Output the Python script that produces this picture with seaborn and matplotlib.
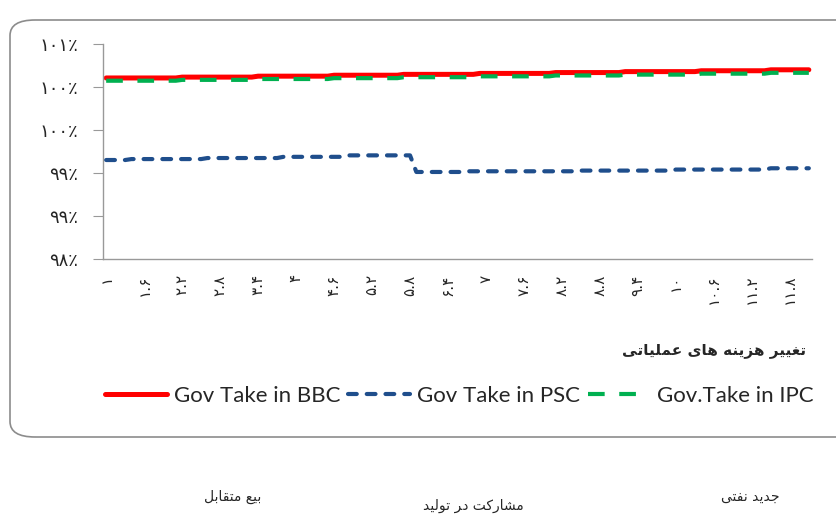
import numpy as np
import pandas as pd
import matplotlib
matplotlib.use("Agg")
import matplotlib.pyplot as plt
from matplotlib.patches import FancyBboxPatch
import seaborn as sns

# categories: change in operating costs (multiplier)
cats = np.round(np.arange(1.0, 12.15, 0.1), 1)

# values, as step levels and their run lengths
bbc_levels = [100.605, 100.615, 100.626, 100.637, 100.647, 100.658, 100.668, 100.679, 100.689, 100.700]
bbc_runs = [12, 12, 12, 11, 12, 12, 11, 12, 11, 7]
ipc_levels = [100.573, 100.583, 100.593, 100.603, 100.614, 100.624, 100.634, 100.644, 100.655, 100.665]
ipc_runs = [12, 12, 12, 11, 12, 12, 11, 12, 11, 7]
psc_levels = [99.651, 99.662, 99.674, 99.688, 99.705, 99.512, 99.520, 99.528, 99.540, 99.555]
psc_runs = [4, 12, 12, 10, 11, 8, 18, 15, 15, 7]

bbc = np.repeat(bbc_levels, bbc_runs)
ipc = np.repeat(ipc_levels, ipc_runs)
psc = np.repeat(psc_levels, psc_runs)

y_ticks = [98.5, 99.0, 99.5, 100.0, 100.5, 101.0]
y_labels = ['۹۸٪', '۹۹٪', '۹۹٪', '۱۰۰٪', '۱۰۰٪', '۱۰۱٪']

# Persian text written as presentation forms, logical order (reversed for display)
xlabel_fa = ('\uFE97\uFED0\uFEF4\uFEF4\uFEAE ' '\uFEEB\uFEB0\uFEF3\uFEE8\uFEEA '
             '\uFEEB\uFE8E\uFEEF ' '\uFECB\uFEE4\uFEE0\uFEF4\uFE8E\uFE97\uFEF0')
note_bbc = '\uFE91\uFEF4\uFECA \uFEE3\uFE98\uFED8\uFE8E\uFE91\uFEDE'
note_psc = '\uFEE3\uFEB8\uFE8E\uFEAD\uFEDB\uFE96 \uFEA9\uFEAE \uFE97\uFEEE\uFEDF\uFEF4\uFEAA'
note_ipc = '\uFE9F\uFEAA\uFEF3\uFEAA \uFEE7\uFED4\uFE98\uFEF0'


def vis(s):
    return s[::-1]


fa_digits = str.maketrans('0123456789', '۰۱۲۳۴۵۶۷۸۹')

sns.set_style('white')
plt.rcParams['font.family'] = ['DejaVu Sans']

fig = plt.figure(figsize=(8.36, 5.16), dpi=100)
W, H = 836, 516
ax = fig.add_axes([103 / W, 1 - 259 / H, (812 - 103) / W, (259 - 44) / H])

# rounded chart border
border = FancyBboxPatch((10 / W, 1 - 437 / H), 860 / W, (437 - 20) / H,
                        boxstyle='round,pad=0,rounding_size=0.03',
                        transform=fig.transFigure, fill=False,
                        edgecolor='#8c8c8c', linewidth=1.2, clip_on=False)
fig.add_artist(border)

sns.lineplot(x=cats, y=bbc, ax=ax, color='#FF0000', linewidth=3.6,
             label='Gov Take in BBC', zorder=2)
sns.lineplot(x=cats, y=psc, ax=ax, color='#1F4E8C', linewidth=3.0,
             label='Gov Take in PSC', zorder=3)
sns.lineplot(x=cats, y=ipc, ax=ax, color='#00B050', linewidth=3.0,
             label='Gov.Take in IPC', zorder=4)

lines = ax.get_lines()
lines[1].set_dashes((2.1, 2.4))
lines[1].set_dash_capstyle('round')
lines[2].set_dashes((4, 3.5))

ax.set_ylim(98.5, 101.0)
ax.set_xlim(cats[0] - 0.05, cats[-1] + 0.05)
ax.set_yticks(y_ticks)
ax.set_yticklabels(y_labels)

bounds = np.append(cats - 0.05, cats[-1] + 0.05)
ax.set_xticks(bounds)
ax.set_xticklabels([])
lab_pos = cats[::6]
ax.set_xticks(lab_pos, minor=True)
ax.set_xticklabels([f'{v:g}'.translate(fa_digits) for v in lab_pos],
                   minor=True, rotation=90, fontsize=11)

ax.tick_params(axis='x', which='major', length=6, color='#999999', direction='out')
ax.tick_params(axis='x', which='minor', length=0, pad=11)
ax.tick_params(axis='y', length=7, color='#999999', direction='out',
               pad=11, labelsize=13, left=True)
for side in ['top', 'right']:
    ax.spines[side].set_visible(False)
for side in ['left', 'bottom']:
    ax.spines[side].set_color('#999999')
    ax.spines[side].set_linewidth(1)
ax.set_xlabel('')
ax.set_ylabel('')

fig.text(806 / W, 1 - 350 / H, vis(xlabel_fa), ha='right', va='center',
         fontsize=11, fontweight='bold')

leg = ax.legend(loc='center', bbox_to_anchor=(459 / W, 1 - 396 / H),
                bbox_transform=fig.transFigure, ncol=3, frameon=False,
                handlelength=2.8, handletextpad=0.3, columnspacing=0.35,
                prop={'family': 'Lato', 'size': 16})
for t in leg.get_texts():
    t.set_color('#262626')

fig.text(233 / W, 1 - 497 / H, vis(note_bbc), ha='center', va='center', fontsize=10)
fig.text(473 / W, 1 - 506 / H, vis(note_psc), ha='center', va='center', fontsize=10)
fig.text(750 / W, 1 - 497 / H, vis(note_ipc), ha='center', va='center', fontsize=10)

fig.savefig('out.png', dpi=100)
